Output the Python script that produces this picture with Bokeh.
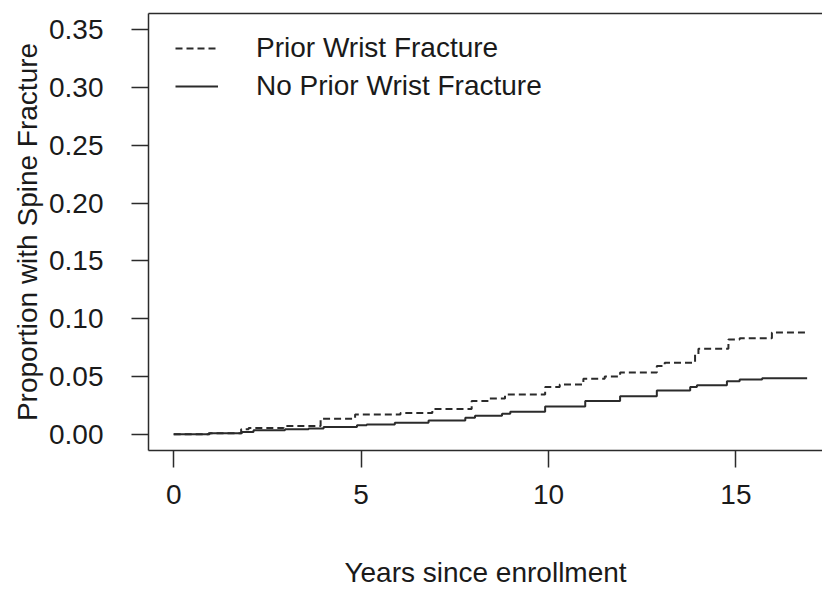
from bokeh.plotting import figure
from bokeh.models import (Range1d, LinearAxis, FixedTicker, NumeralTickFormatter,
                          Legend, LegendItem)
from bokeh.embed import file_html
from bokeh.resources import INLINE

# ---- data (step-function cumulative incidence) ----
prior_t = [0, 0.96, 1.8, 2.0, 2.93, 3.92, 4.84, 6.05, 6.9, 7.95, 8.4, 8.84,
           9.91, 10.3, 10.93, 11.5, 11.91, 12.89, 13.1, 13.91, 14.0, 14.8,
           15.1, 15.96]
prior_p = [0, 0.001, 0.0043, 0.0055, 0.0072, 0.0135, 0.0172, 0.0185, 0.0218,
           0.0288, 0.031, 0.0345, 0.041, 0.043, 0.048, 0.050, 0.0535, 0.059,
           0.062, 0.069, 0.074, 0.082, 0.083, 0.088]
prior_end = 16.85

noprior_t = [0, 0.93, 1.82, 2.13, 2.97, 3.6, 4.0, 4.89, 5.15, 5.9, 6.8, 7.78,
             8.04, 8.76, 8.98, 9.91, 10.98, 11.91, 12.89, 13.78, 13.96, 14.76,
             15.1, 15.7]
noprior_p = [0, 0.001, 0.002, 0.0035, 0.0043, 0.005, 0.0063, 0.0078, 0.0085,
             0.010, 0.012, 0.0144, 0.016, 0.0178, 0.0196, 0.024, 0.0288, 0.033,
             0.038, 0.041, 0.0425, 0.046, 0.0475, 0.0486]
noprior_end = 16.9

x_ticks = [0, 5, 10, 15]
y_ticks = [0.00, 0.05, 0.10, 0.15, 0.20, 0.25, 0.30, 0.35]

labels = ["Prior Wrist Fracture", "No Prior Wrist Fracture"]
x_title = "Years since enrollment"
y_title = "Proportion with Spine Fracture"


def step_coords(t, v, end):
    xs, ys = [], []
    for i in range(len(t)):
        xs.append(t[i]); ys.append(v[i])
        nxt = t[i + 1] if i + 1 < len(t) else end
        xs.append(nxt); ys.append(v[i])
    return xs, ys


FONT = "Liberation Sans"
TXT = "#1a1a1a"
LINE = "#2b2b2b"
FS = "28px"

p = figure(width=822, height=591,
           x_range=Range1d(-0.672, 17.31), y_range=Range1d(-0.014, 0.364),
           output_backend="svg", toolbar_location=None,
           x_axis_location=None, y_axis_location=None,
           min_border_left=148, min_border_right=0,
           min_border_top=13, min_border_bottom=141)
p.grid.visible = False
p.outline_line_color = None
p.background_fill_color = "white"
p.border_fill_color = "white"

px, py = step_coords(prior_t, prior_p, prior_end)
nx, ny = step_coords(noprior_t, noprior_p, noprior_end)

r_prior = p.line(x=px, y=py, line_color=LINE, line_width=2, line_dash="7 4")
r_no = p.line(x=nx, y=ny, line_color=LINE, line_width=2)

xa = LinearAxis(ticker=FixedTicker(ticks=x_ticks), axis_label=x_title)
ya = LinearAxis(ticker=FixedTicker(ticks=y_ticks), axis_label=y_title,
                formatter=NumeralTickFormatter(format="0.00"))
for ax in (xa, ya):
    ax.axis_line_color = LINE
    ax.axis_line_width = 1.5
    ax.major_tick_line_color = LINE
    ax.major_tick_line_width = 1.5
    ax.major_tick_out = 17
    ax.major_tick_in = 0
    ax.minor_tick_out = 0
    ax.minor_tick_in = 0
    ax.major_label_text_font = FONT
    ax.major_label_text_font_size = FS
    ax.major_label_text_color = TXT
    ax.axis_label_text_font = FONT
    ax.axis_label_text_font_size = FS
    ax.axis_label_text_font_style = "normal"
    ax.axis_label_text_color = TXT
xa.major_label_standoff = 17
xa.axis_label_standoff = 50
ya.major_label_standoff = 28
ya.axis_label_standoff = 3
p.add_layout(xa, "below")
p.add_layout(ya, "left")

# top border line of the box
top = LinearAxis(ticker=FixedTicker(ticks=[]), major_tick_out=0, major_tick_in=0,
                 minor_tick_out=0, minor_tick_in=0, major_label_standoff=0,
                 major_label_text_font_size="0px",
                 axis_line_color=LINE, axis_line_width=1.5)
p.add_layout(top, "above")

legend = Legend(items=[LegendItem(label=labels[0], renderers=[r_prior]),
                       LegendItem(label=labels[1], renderers=[r_no])],
                location=(27, 345), padding=0, margin=0, spacing=0,
                glyph_width=43, glyph_height=20, label_height=38,
                label_standoff=38, border_line_color=None,
                background_fill_alpha=0,
                label_text_font=FONT, label_text_font_size=FS,
                label_text_color=TXT)
p.add_layout(legend)

open("out.html", "w").write(file_html(p, INLINE))
